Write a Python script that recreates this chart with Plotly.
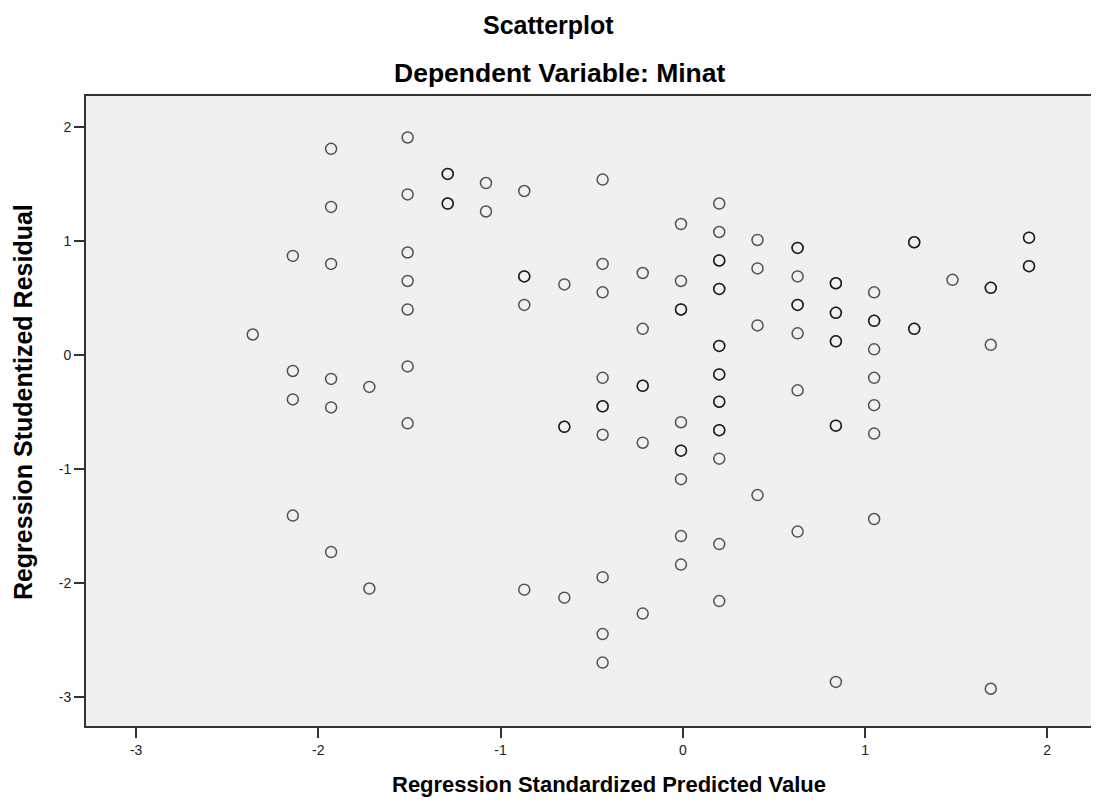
import plotly.graph_objects as go

# Regression standardized predicted value (x) and studentized residual (y)
# Repeated pairs are overlapping cases (drawn darker in the reference).
pred = [
    -2.36,
    -2.14, -2.14, -2.14, -2.14,
    -1.93, -1.93, -1.93, -1.93, -1.93, -1.93,
    -1.72, -1.72,
    -1.51, -1.51, -1.51, -1.51, -1.51, -1.51, -1.51,
    -1.29, -1.29, -1.29, -1.29,
    -1.08, -1.08,
    -0.87, -0.87, -0.87, -0.87, -0.87,
    -0.65, -0.65, -0.65, -0.65,
    -0.44, -0.44, -0.44, -0.44, -0.44, -0.44, -0.44, -0.44, -0.44, -0.44,
    -0.22, -0.22, -0.22, -0.22, -0.22, -0.22,
    -0.01, -0.01, -0.01, -0.01, -0.01, -0.01, -0.01, -0.01, -0.01, -0.01,
    0.20, 0.20, 0.20, 0.20, 0.20, 0.20, 0.20, 0.20, 0.20, 0.20, 0.20, 0.20,
    0.20, 0.20, 0.20, 0.20, 0.20,
    0.41, 0.41, 0.41, 0.41,
    0.63, 0.63, 0.63, 0.63, 0.63, 0.63, 0.63, 0.63,
    0.84, 0.84, 0.84, 0.84, 0.84, 0.84, 0.84, 0.84, 0.84,
    1.05, 1.05, 1.05, 1.05, 1.05, 1.05, 1.05, 1.05,
    1.27, 1.27, 1.27, 1.27,
    1.48,
    1.69, 1.69, 1.69, 1.69,
    1.90, 1.90, 1.90, 1.90,
]
resid = [
    0.18,
    0.87, -0.14, -0.39, -1.41,
    1.81, 1.30, 0.80, -0.21, -0.46, -1.73,
    -0.28, -2.05,
    1.91, 1.41, 0.90, 0.65, 0.40, -0.10, -0.60,
    1.59, 1.59, 1.33, 1.33,
    1.51, 1.26,
    1.44, 0.69, 0.69, 0.44, -2.06,
    0.62, -0.63, -0.63, -2.13,
    1.54, 0.80, 0.55, -0.20, -0.45, -0.45, -0.70, -1.95, -2.45, -2.70,
    0.72, 0.23, -0.27, -0.27, -0.77, -2.27,
    1.15, 0.65, 0.40, 0.40, -0.59, -0.84, -0.84, -1.09, -1.59, -1.84,
    1.33, 1.08, 0.83, 0.83, 0.58, 0.58, 0.08, 0.08, -0.17, -0.17, -0.41, -0.41,
    -0.66, -0.66, -0.91, -1.66, -2.16,
    1.01, 0.76, 0.26, -1.23,
    0.94, 0.94, 0.69, 0.44, 0.44, 0.19, -0.31, -1.55,
    0.63, 0.63, 0.37, 0.37, 0.12, 0.12, -0.62, -0.62, -2.87,
    0.55, 0.30, 0.30, 0.05, -0.20, -0.44, -0.69, -1.44,
    0.99, 0.99, 0.23, 0.23,
    0.66,
    0.59, 0.59, 0.09, -2.93,
    1.03, 1.03, 0.78, 0.78,
]

tick_vals = [-3, -2, -1, 0, 1, 2]
tick_text = ["-3", "-2", "-1", "0", "1", "2"]

title_text = "Scatterplot"
subtitle_text = "Dependent Variable: Minat"
x_title = "Regression Standardized Predicted Value"
y_title = "Regression Studentized Residual"

# The page body adds an 8px offset, so the figure is 8px smaller and all
# positions below are given in window pixels, then shifted.
OFF = 8
WIN_W, WIN_H = 1099, 803
W, H = WIN_W - OFF, WIN_H - OFF
# plot area in window pixels
PL, PR, PT, PB = 86, 1097, 96, 726
L, R, T, B = PL - OFF, WIN_W - PR, PT - OFF, WIN_H - PB
plot_h = PB - PT
plot_w = PR - PL

fig = go.Figure()
fig.add_trace(go.Scatter(
    x=pred, y=resid, mode="markers",
    marker=dict(symbol="circle-open", size=11,
                line=dict(color="rgba(0,0,0,0.66)", width=1.5),
                color="rgba(0,0,0,0.66)"),
    hoverinfo="x+y", showlegend=False,
))

font_family = "Liberation Sans, Arial, sans-serif"

def py(pix):
    return (PB - pix) / plot_h

def px(pix):
    return (pix - PL) / plot_w

annotations = [
    dict(text="<b>%s</b>" % title_text, x=px(549.5), y=py(25), xref="paper", yref="paper",
         xanchor="center", yanchor="middle", showarrow=False,
         font=dict(family=font_family, size=25, color="#000")),
    dict(text="<b>%s</b>" % subtitle_text, x=px(560), y=py(73), xref="paper", yref="paper",
         xanchor="center", yanchor="middle", showarrow=False,
         font=dict(family=font_family, size=26.5, color="#000")),
    dict(text="<b>%s</b>" % x_title, x=px(610), y=py(784), xref="paper", yref="paper",
         xanchor="center", yanchor="middle", showarrow=False,
         font=dict(family=font_family, size=22, color="#000")),
    dict(text="<b>%s</b>" % y_title, x=px(23), y=py(402), xref="paper", yref="paper",
         xanchor="center", yanchor="middle", showarrow=False, textangle=-90,
         font=dict(family=font_family, size=25, color="#000")),
]

axis_common = dict(
    showgrid=False, zeroline=False, showline=True, linecolor="#333333", linewidth=2,
    mirror=True, ticks="outside", ticklen=10, tickwidth=1.5, tickcolor="#333333",
    tickvals=tick_vals, ticktext=tick_text,
    tickfont=dict(family=font_family, size=14, color="#222222"),
)

fig.update_layout(
    width=W, height=H,
    margin=dict(l=L, r=R, t=T, b=B),
    paper_bgcolor="white", plot_bgcolor="#f0f0f0",
    xaxis=dict(range=[-3.275, 2.262], **axis_common),
    yaxis=dict(range=[-3.257, 2.274], **axis_common),
    annotations=annotations,
)

fig.write_html("out.html")
